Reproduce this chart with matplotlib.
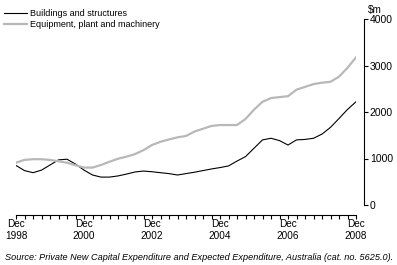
import matplotlib
matplotlib.use("Agg")
import matplotlib.pyplot as plt
from matplotlib.ticker import MultipleLocator
import numpy as np

# Quarterly, Dec 1998 .. Dec 2008 ($m)
quarters = np.arange(41)
buildings = [850, 740, 695, 750, 860, 970, 985, 880, 750, 645, 600, 600, 625, 665,
             710, 730, 715, 695, 675, 645, 675, 705, 740, 775, 805, 840, 945, 1040,
             1220, 1400, 1435, 1385, 1290, 1400, 1410, 1435, 1525, 1670, 1860, 2055, 2220]
equipment = [910, 970, 985, 985, 970, 940, 910, 855, 805, 805, 860, 930, 995, 1040,
             1095, 1180, 1290, 1360, 1410, 1455, 1485, 1580, 1640, 1700, 1720, 1720,
             1720, 1850, 2050, 2220, 2300, 2320, 2340, 2480, 2540, 2600, 2630, 2650,
             2760, 2950, 3175]
tick_pos = [0, 8, 16, 24, 32, 40]
tick_labels = ["Dec\n1998", "Dec\n2000", "Dec\n2002", "Dec\n2004", "Dec\n2006", "Dec\n2008"]

plt.rcParams["font.family"] = "Liberation Sans"

fig = plt.figure(figsize=(3.97, 2.65), dpi=100)
ax = fig.add_axes([16 / 397, 60 / 265, 340 / 397, 186 / 265])

ax.plot(quarters, buildings, color="black", lw=0.8, label="Buildings and structures")
ax.plot(quarters, equipment, color="#b8b8b8", lw=1.6, label="Equipment, plant and machinery")

ax.set_xlim(0, 40)
ax.set_ylim(0, 4000)

for s in ["top", "left"]:
    ax.spines[s].set_visible(False)
ax.spines["right"].set_position(("outward", 6))
ax.spines["bottom"].set_position(("outward", 7))
ax.spines["right"].set_linewidth(0.8)
ax.spines["bottom"].set_linewidth(0.8)

ax.yaxis.tick_right()
ax.set_yticks([0, 1000, 2000, 3000, 4000])
ax.tick_params(axis="y", direction="out", length=3, width=0.8, labelsize=7.5, pad=1)

ax.set_xticks(tick_pos)
ax.set_xticklabels(tick_labels)
ax.xaxis.set_minor_locator(MultipleLocator(1))
ax.tick_params(axis="x", which="both", direction="out", length=3, width=0.8,
               labelsize=7.2, pad=0)
for lab in ax.get_xticklabels():
    lab.set_linespacing(1.25)

fig.text(368 / 397, 1 - 10 / 265, "$m", fontsize=7.2, ha="left", va="center")

fig.legend(loc="upper left", bbox_to_anchor=(-0.01, 0.995), frameon=False, fontsize=6.5,
           handlelength=2.5, handletextpad=0.4, labelspacing=0.15, borderaxespad=0.5)

fig.text(5 / 397, 1 - 257 / 265,
         "Source: Private New Capital Expenditure and Expected Expenditure, Australia (cat. no. 5625.0).",
         fontsize=6.6, style="italic", ha="left", va="center")

fig.savefig("out.png", dpi=100)
